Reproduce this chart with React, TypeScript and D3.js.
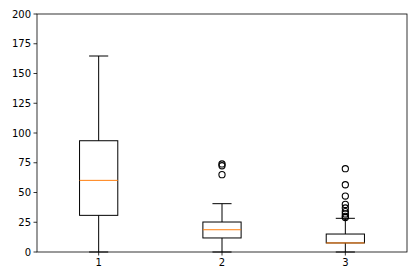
import React from "react";
import * as d3 from "d3";

const categories = ["1", "2", "3"];
const whiskerLow = [0, 0, 0];
const q1 = [30.8, 11.8, 7.6];
const medians = [60.2, 18.7, 7.6];
const q3 = [93.5, 25.2, 15.1];
const whiskerHigh = [164.7, 40.6, 28.3];
const outliers: number[][] = [
  [],
  [74, 72.5, 65],
  [70, 56.5, 47, 40, 37, 34, 32, 30, 29],
];
const yTicks = [0, 25, 50, 75, 100, 125, 150, 175, 200];

const W = 416;
const H = 279;
const left = 37;
const right = 407;
const top = 14;
const bottom = 252;

export default function App() {
  const x = d3.scaleLinear().domain([0.5, 3.5]).range([left, right]);
  const y = d3.scaleLinear().domain([0, 200]).range([bottom, top]);
  const boxW = (x(1.31) - x(1));
  const capW = boxW / 2;
  const font = "DejaVu Sans, sans-serif";

  return (
    <svg
      width={W}
      height={H}
      style={{ position: "absolute", left: 0, top: 0, background: "#fff" }}
      fontFamily={font}
    >
      <rect x={0} y={0} width={W} height={H} fill="#fff" />
      {categories.map((c, i) => {
        const cx = x(i + 1);
        return (
          <g key={c}>
            <line x1={cx} x2={cx} y1={y(q1[i])} y2={y(whiskerLow[i])} stroke="#000" strokeWidth={1} />
            <line x1={cx} x2={cx} y1={y(q3[i])} y2={y(whiskerHigh[i])} stroke="#000" strokeWidth={1} />
            <line x1={cx - capW / 2} x2={cx + capW / 2} y1={y(whiskerLow[i])} y2={y(whiskerLow[i])} stroke="#000" strokeWidth={1} />
            <line x1={cx - capW / 2} x2={cx + capW / 2} y1={y(whiskerHigh[i])} y2={y(whiskerHigh[i])} stroke="#000" strokeWidth={1} />
            <rect
              x={cx - boxW / 2}
              y={y(q3[i])}
              width={boxW}
              height={y(q1[i]) - y(q3[i])}
              fill="none"
              stroke="#000"
              strokeWidth={1}
            />
            <line x1={cx - boxW / 2} x2={cx + boxW / 2} y1={y(medians[i])} y2={y(medians[i])} stroke="#ff7f0e" strokeWidth={1} />
            {outliers[i].map((v, j) => (
              <circle key={j} cx={cx} cy={y(v)} r={3.1} fill="none" stroke="#000" strokeWidth={1.1} />
            ))}
          </g>
        );
      })}
      <rect x={left} y={top} width={right - left} height={bottom - top} fill="none" stroke="#000" strokeWidth={0.8} />
      {yTicks.map((t) => (
        <g key={t}>
          <line x1={left - 3.5} x2={left} y1={y(t)} y2={y(t)} stroke="#000" strokeWidth={0.8} />
          <text x={left - 6} y={y(t)} dy="0.35em" textAnchor="end" fontSize={10} fill="#000">
            {t}
          </text>
        </g>
      ))}
      {categories.map((c, i) => (
        <g key={"xt" + c}>
          <line x1={x(i + 1)} x2={x(i + 1)} y1={bottom} y2={bottom + 3.5} stroke="#000" strokeWidth={0.8} />
          <text x={x(i + 1)} y={bottom + 6} dy="0.76em" textAnchor="middle" fontSize={10} fill="#000">
            {c}
          </text>
        </g>
      ))}
    </svg>
  );
}
